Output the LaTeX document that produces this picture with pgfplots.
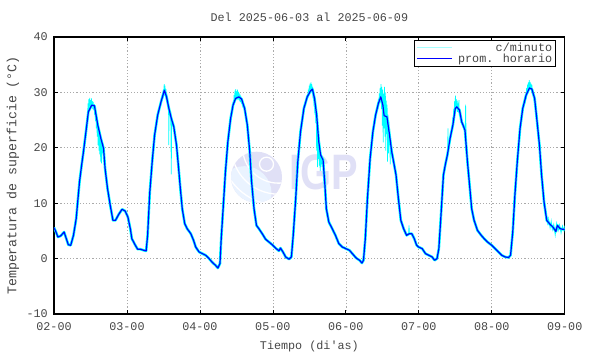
\documentclass[border=0pt]{standalone}
\usepackage{fontspec}
\setmainfont{Liberation Mono}
\newfontfamily\logofont{Liberation Sans}
\usepackage{pgfplots}
\pgfplotsset{compat=1.18}
\usepackage{pgfplotstable}
\definecolor{txt}{RGB}{70,70,70}
\definecolor{logo}{RGB}{224,224,246}
\definecolor{logolight}{RGB}{234,243,255}
\definecolor{cyanc}{RGB}{0,255,255}
\definecolor{bluec}{RGB}{0,0,255}
\definecolor{gridc}{RGB}{170,170,170}

\pgfplotstableread{
d T
2.000 5.6
2.021 5.0
2.054 3.9
2.092 4.1
2.138 4.8
2.196 2.5
2.229 2.4
2.267 4.2
2.304 7.2
2.350 13.9
2.379 16.9
2.404 19.3
2.438 22.9
2.471 26.5
2.517 27.7
2.554 27.6
2.600 24.1
2.642 21.7
2.679 19.9
2.700 16.3
2.733 12.7
2.771 9.6
2.808 6.9
2.842 6.9
2.888 8.0
2.933 8.9
2.975 8.6
3.013 7.5
3.046 5.4
3.067 3.6
3.115 2.4
3.146 1.7
3.183 1.7
3.229 1.5
3.263 1.4
3.283 4.2
3.313 12.0
3.346 17.5
3.379 22.3
3.421 25.9
3.467 28.3
3.513 30.4
3.542 29.2
3.575 27.1
3.608 25.3
3.642 23.8
3.679 20.5
3.708 16.3
3.733 12.5
3.758 9.0
3.792 6.3
3.825 5.4
3.875 4.5
3.913 3.3
3.942 2.1
3.988 1.2
4.033 0.9
4.079 0.6
4.125 0.0
4.171 -0.7
4.213 -1.2
4.246 -1.7
4.275 -0.9
4.292 3.6
4.321 9.6
4.350 15.7
4.383 21.1
4.421 25.3
4.454 27.7
4.488 28.9
4.533 29.2
4.571 28.8
4.613 27.1
4.650 24.1
4.683 19.3
4.708 13.9
4.742 9.0
4.775 6.0
4.808 5.4
4.854 4.5
4.900 3.5
4.946 3.0
5.000 2.4
5.046 1.8
5.083 1.4
5.104 1.9
5.138 1.2
5.175 0.3
5.221 -0.1
5.254 0.3
5.279 4.2
5.313 10.8
5.342 17.5
5.379 22.9
5.425 27.1
5.471 29.2
5.513 30.2
5.542 30.6
5.571 28.9
5.600 25.9
5.629 21.1
5.654 18.7
5.688 17.8
5.713 13.3
5.733 9.0
5.767 6.6
5.813 5.4
5.858 4.2
5.904 2.7
5.950 2.1
6.000 1.8
6.050 1.5
6.096 0.8
6.142 0.1
6.188 -0.3
6.221 -0.8
6.242 -0.3
6.267 3.6
6.296 10.8
6.333 18.1
6.371 22.9
6.408 25.9
6.446 28.0
6.479 29.2
6.508 27.7
6.525 25.8
6.563 25.6
6.596 22.6
6.629 19.3
6.663 16.9
6.688 15.1
6.721 10.8
6.754 6.9
6.792 5.4
6.833 4.2
6.871 4.5
6.904 4.5
6.938 3.6
6.971 2.4
6.996 2.1
7.046 1.8
7.092 0.9
7.138 0.6
7.183 0.3
7.217 -0.3
7.250 0.0
7.275 1.8
7.304 7.8
7.338 15.1
7.363 16.9
7.392 18.7
7.429 21.7
7.467 24.1
7.500 27.1
7.521 27.4
7.558 26.8
7.588 24.7
7.633 23.2
7.667 17.5
7.696 13.3
7.725 9.0
7.758 6.9
7.804 5.1
7.850 4.3
7.896 3.6
7.942 3.0
8.000 2.4
8.046 1.8
8.092 1.2
8.138 0.6
8.183 0.3
8.229 0.2
8.258 0.6
8.288 4.8
8.317 11.4
8.350 17.5
8.388 23.5
8.425 27.1
8.471 29.5
8.517 30.8
8.550 30.6
8.588 28.9
8.617 25.3
8.654 20.5
8.683 15.1
8.717 10.2
8.754 6.9
8.792 6.3
8.838 5.7
8.879 4.9
8.900 6.0
8.938 5.4
8.971 5.3
9.000 5.3
}\hourly

\pgfplotstableread{
d T
2.460 25.5
2.466 28.0
2.472 26.8
2.478 28.8
2.484 27.4
2.490 29.0
2.496 27.5
2.502 28.6
2.508 27.2
2.514 28.9
2.520 27.6
2.526 28.4
2.532 27.0
2.538 28.3
2.544 26.8
2.550 27.9
2.556 26.0
2.562 27.2
2.568 24.8
2.574 26.4
2.580 23.5
2.586 25.6
2.592 22.0
2.598 24.8
2.604 20.5
2.610 23.6
2.616 19.5
2.622 22.5
2.628 18.8
2.634 21.8
2.640 17.5
2.646 21.4
2.652 17.2
2.658 20.8
2.664 19.0
2.670 20.2
nan nan
3.480 28.5
3.486 29.6
3.492 28.9
3.498 30.5
3.504 29.6
3.510 31.5
3.516 30.0
3.522 31.2
3.528 29.4
3.534 30.6
3.540 28.8
3.546 29.8
3.552 28.0
3.558 28.9
3.564 27.4
3.570 27.9
3.573 20.5
3.578 27.2
3.590 26.0
3.600 26.3
3.608 15.2
3.612 25.0
3.620 24.6
nan nan
4.450 27.0
4.456 28.4
4.462 27.6
4.468 29.5
4.474 28.2
4.480 30.3
4.486 28.5
4.492 30.6
4.498 29.0
4.504 30.2
4.510 28.6
4.516 30.5
4.522 28.9
4.528 30.1
4.534 28.6
4.540 29.8
4.546 28.4
4.552 29.6
4.558 28.2
4.564 29.3
4.570 28.0
4.576 28.8
4.582 27.6
4.590 28.0
nan nan
5.480 29.0
5.486 30.5
5.492 29.3
5.498 31.2
5.504 29.8
5.510 31.6
5.516 30.0
5.522 31.8
5.528 30.2
5.534 31.5
5.540 29.8
5.546 31.0
5.552 28.8
5.558 30.0
5.564 27.5
5.570 29.0
5.576 26.0
5.582 27.5
5.588 24.5
5.594 26.5
5.600 19.5
5.606 24.8
5.612 16.5
5.618 23.0
5.624 18.0
5.630 22.0
5.636 16.8
5.642 21.0
5.648 15.8
5.654 19.5
5.660 16.5
5.666 18.8
5.672 17.0
5.680 18.2
nan nan
6.440 27.0
6.446 28.8
6.452 27.5
6.458 29.8
6.464 28.0
6.470 30.8
6.476 28.5
6.482 31.5
6.488 27.0
6.494 31.0
6.500 24.0
6.506 30.5
6.512 21.0
6.518 29.8
6.524 23.5
6.530 31.0
6.536 22.0
6.542 30.0
6.548 19.5
6.554 28.5
6.560 22.5
6.566 27.8
6.572 17.5
6.578 26.0
6.584 19.0
6.590 25.0
6.596 20.5
6.602 23.5
6.608 17.0
6.614 21.5
6.620 18.8
6.630 19.6
nan nan
6.860 4.5
6.866 6.0
6.872 4.4
nan nan
7.395 19.0
7.400 23.5
7.405 19.5
7.410 20.0
nan nan
7.460 23.5
7.466 25.5
7.472 24.6
7.478 27.0
7.484 25.8
7.490 28.4
7.496 26.5
7.502 29.4
7.508 27.0
7.514 28.8
7.520 27.2
7.526 28.5
7.532 26.5
7.538 28.0
7.544 26.4
7.550 28.6
7.556 25.8
7.562 27.0
7.568 25.0
7.574 26.2
7.580 24.5
7.586 25.4
nan nan
7.636 23.0
7.642 27.8
7.648 22.5
7.652 21.5
nan nan
8.460 28.0
8.466 29.6
8.472 28.8
8.478 30.8
8.484 29.6
8.490 31.4
8.496 30.0
8.502 31.8
8.508 30.4
8.514 32.2
8.520 30.6
8.526 31.9
8.532 30.5
8.538 31.6
8.544 30.2
8.550 31.4
8.556 29.8
8.562 30.6
8.568 29.2
8.574 30.0
8.580 28.6
8.590 28.8
nan nan
8.760 7.5
8.770 6.0
8.780 7.2
8.800 5.5
8.815 6.8
8.830 5.2
8.850 6.2
8.870 4.2
8.890 6.4
8.910 5.0
8.930 6.1
8.950 4.6
8.970 5.9
8.990 5.0
9.000 6.0
}\spikes

\begin{document}
\begin{tikzpicture}
\begin{axis}[
  scale only axis, width=510.7bp, height=277bp,
  xmin=2, xmax=9, ymin=-10, ymax=40,
  xtick={2,3,4,5,6,7,8,9},
  xticklabels={02-00,03-00,04-00,05-00,06-00,07-00,08-00,09-00},
  ytick={-10,0,10,20,30,40},
  yticklabels={-10,0,10,20,30,40},
  grid=major,
  grid style={color=gridc, line width=0.6bp, dash pattern=on 1.2bp off 2bp},
  axis line style={line width=1.4bp, black},
  tick style={black, line width=0.7bp},
  major tick length=4bp,
  tick align=inside,
  ticklabel style={font=\fontsize{11.8}{13}\selectfont, text=txt},
  xticklabel style={anchor=base, yshift=-16bp},
  yticklabel style={anchor=east, inner sep=0pt, xshift=-6bp},
  title={Del 2025-06-03 al 2025-06-09},
  title style={at={(0.5,1)}, anchor=base, yshift=10bp, font=\fontsize{11.8}{13}\selectfont, text=txt},
  xlabel={Tiempo (di\textquotesingle as)},
  xlabel style={at={(axis description cs:0.5,0)}, anchor=base, yshift=-35bp, font=\fontsize{11.8}{13}\selectfont, text=txt},
  ylabel={Temperatura de superficie (°C)},
  ylabel style={at={(axis description cs:-0.0803,0.5)}, anchor=center, font=\fontsize{13.3}{15}\selectfont, text=txt},
  unbounded coords=jump,
  legend style={at={(rel axis cs:0.983,0.99)}, anchor=north east, draw=black, line width=0.7bp, fill=white,
    font=\fontsize{11.8}{12}\selectfont, text=txt, inner xsep=2bp, inner ysep=1bp, row sep=-2bp,
    nodes={inner sep=1.5bp}},
  legend cell align=right,
  legend image code/.code={\draw[#1] (0bp,0bp) -- (35bp,0bp);},
  legend style={column sep=4bp},
]
% watermark logo
\fill[logo] (axis cs:4.776,14.7) circle[radius=25.5bp];
\begin{scope}
  \clip (axis cs:4.776,14.7) circle[radius=25.5bp];
  \fill[logolight] ([xshift=-12bp,yshift=-16bp]axis cs:4.776,14.7) circle[radius=27bp];
  \draw[white, line width=1.3bp] ([xshift=22bp,yshift=30bp]axis cs:4.776,14.7) circle[radius=36bp];
  \draw[white, line width=1.3bp] ([xshift=22bp,yshift=30bp]axis cs:4.776,14.7) circle[radius=47bp];
  \draw[white, line width=1.3bp] ([xshift=22bp,yshift=30bp]axis cs:4.776,14.7) circle[radius=58bp];
  \draw[white, line width=1.3bp] ([xshift=10bp,yshift=13bp]axis cs:4.776,14.7) circle[radius=7bp];
\end{scope}
\node[text=logo, font=\logofont\bfseries\fontsize{50}{50}\selectfont] at (axis cs:5.70,15.5) {\scalebox{0.8}[1]{IGP}};

\addlegendimage{cyanc!35, line width=0.9bp}
\addlegendimage{bluec, line width=1.2bp}

\addplot[forget plot, cyanc, line width=2.6bp, line join=round] table[x=d, y=T] {\hourly};
\addplot[forget plot, cyanc, line width=0.7bp] table[x=d, y=T] {\spikes};
\addplot[forget plot, bluec, line width=1.2bp, line join=round] table[x=d, y=T] {\hourly};
\legend{c/minuto, prom. horario}
\coordinate (sw) at (rel axis cs:0,0);
\end{axis}
\pgfresetboundingbox
\path[use as bounding box] (sw) ++(-54bp,-40bp) rectangle ++(590bp,354bp);
\end{tikzpicture}
\end{document}
